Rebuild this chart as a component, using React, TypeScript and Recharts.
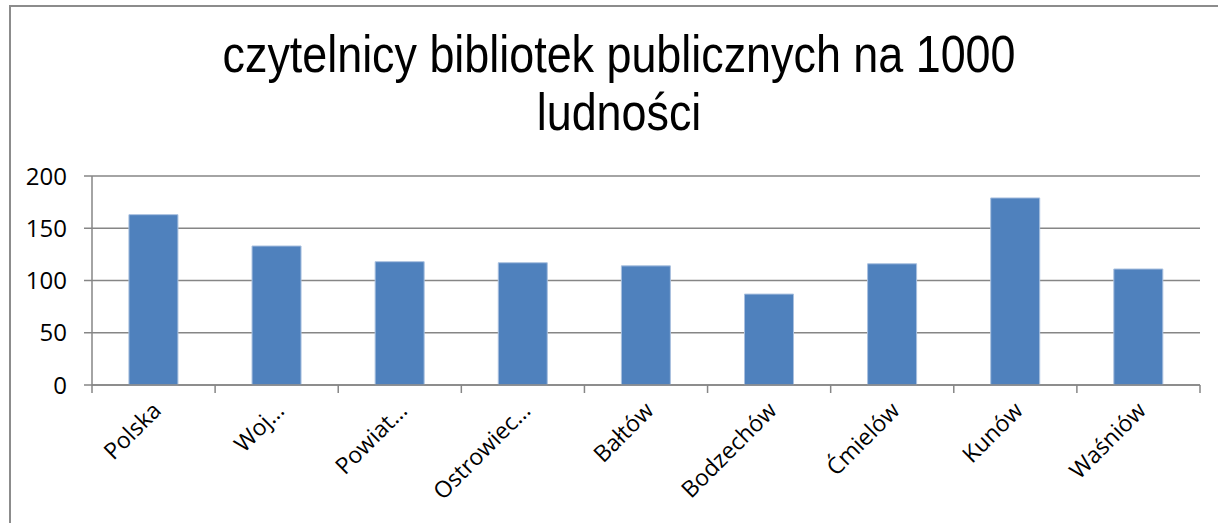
import React from 'react';
import { BarChart, Bar, XAxis, YAxis, CartesianGrid } from 'recharts';

const categories = ['Polska', 'Woj…', 'Powiat…', 'Ostrowiec…', 'Bałtów', 'Bodzechów', 'Ćmielów', 'Kunów', 'Waśniów'];
const values = [163, 133, 118, 117, 114, 87, 116, 179, 111];
const yTicks = [0, 50, 100, 150, 200];
const titleLines = ['czytelnicy bibliotek publicznych na 1000', 'ludności'];

const data = categories.map((c, i) => ({ name: c, value: values[i] }));

const AXIS = '#868686';

const XTick = (props: any) => {
  const { x, y, payload, index, visibleTicksCount } = props;
  const half = (payload && payload.offset) ? payload.offset : 1108 / 9 / 2;
  const last = index === (visibleTicksCount ?? categories.length) - 1;
  return (
    <g>
      <line x1={x - half} x2={x - half} y1={y - 8} y2={y} stroke={AXIS} strokeWidth={1.5} />
      {last && <line x1={x + half} x2={x + half} y1={y - 8} y2={y} stroke={AXIS} strokeWidth={1.5} />}
      <text
        x={x + 9}
        y={y + 19}
        textAnchor="end"
        transform={`rotate(-45 ${x + 9} ${y + 19})`}
        fontFamily="'Open Sans', sans-serif"
        fontSize={23}
        fill="#000"
      >
        {payload.value}
      </text>
    </g>
  );
};

export default function App() {
  return (
    <div style={{ position: 'relative', width: 1210, height: 515 }}>
      <div style={{ position: 'absolute', left: 0, top: 0 }}>
        <BarChart width={1203} height={516} data={data} margin={{ top: 168, right: 11, left: 0, bottom: 0 }} barCategoryGap="30%">
          <CartesianGrid vertical={false} stroke={AXIS} strokeWidth={1.5} />
          <XAxis dataKey="name" height={139} interval={0} tickLine={false} axisLine={{ stroke: AXIS, strokeWidth: 1.5 }} tick={<XTick />} />
          <YAxis
            width={84}
            domain={[0, 200]}
            ticks={yTicks}
            tickSize={8}
            tickMargin={17}
            tickLine={{ stroke: AXIS, strokeWidth: 1.5 }}
            axisLine={{ stroke: AXIS, strokeWidth: 1.5 }}
            tick={{ fill: '#000', fontSize: 24, fontFamily: "'Open Sans', sans-serif" }}
          />
          <Bar dataKey="value" fill="#4F81BD" stroke="#A9C0DF" strokeWidth={1} isAnimationActive={false} />
        </BarChart>
      </div>
      <svg style={{ position: 'fixed', left: 0, top: 0, pointerEvents: 'none' }} width={1218} height={523}>
        <rect x={10} y={6} width={1220} height={530} fill="none" stroke="#8c8c8c" strokeWidth={2} />
        <g transform="translate(619 0) scale(0.88 1)">
          <text x={0} y={72} textAnchor="middle" fontFamily="'Liberation Sans', Arial, sans-serif" fontSize={51} fill="#000">{titleLines[0]}</text>
          <text x={0} y={130} textAnchor="middle" fontFamily="'Liberation Sans', Arial, sans-serif" fontSize={51} fill="#000">{titleLines[1]}</text>
        </g>
      </svg>
    </div>
  );
}
